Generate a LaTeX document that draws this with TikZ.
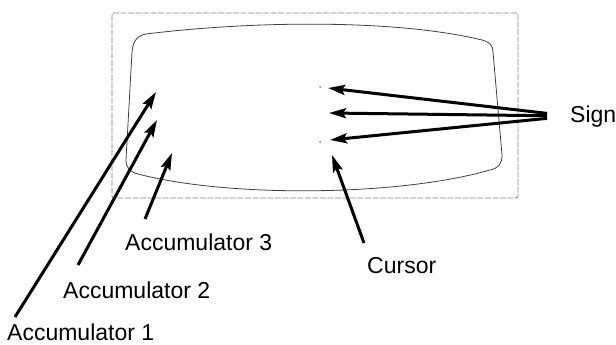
\documentclass[tikz,border=0pt]{standalone}
\usepackage{fontspec}
\setmainfont{Liberation Sans}
\usetikzlibrary{arrows.meta}
\begin{document}
\begin{tikzpicture}[x=1pt,y=-1pt,
  pointer/.style={line width=3pt,-{Stealth[length=17pt,width=10pt,inset=3pt]}},
  tag/.style={anchor=base west,inner sep=0pt,font=\fontsize{23}{26}\selectfont}]
 \useasboundingbox (0,0) rectangle (616,345);
 % display frame
 \draw[gray,line width=0.8pt,dash pattern=on 6pt off 1.5pt,rounded corners=2pt](112,13) rectangle (518,198);
 % screen
 \draw[black!75,line width=0.8pt](132,52) .. controls (133,42) and (136,36) .. (146,34)
   .. controls (260,20) and (400,20) .. (482,40)
   .. controls (490,42) and (493,46) .. (493,52) -- (502,155)
   .. controls (502,165) and (498,168) .. (490,170)
   .. controls (400,196) and (230,198) .. (138,174)
   .. controls (130,172) and (126,168) .. (126,160) -- cycle;
 \fill[gray](320,87) circle (1pt);
 \fill[gray](320,142) circle (1pt);
 % targets
 \coordinate (s1) at (328,88);
 \coordinate (s2) at (329,113);
 \coordinate (s3) at (330,140);
 \coordinate (cur) at (332,155);
 \coordinate (a1) at (156,92);
 \coordinate (a2) at (157,120);
 \coordinate (a3) at (172,153);
 % labels
 \node[tag] (sign) at (570,122) {Sign};
 \node[tag] (cursor) at (367,273) {Cursor};
 \node[tag] (acc3) at (125,250) {Accumulator 3};
 \node[tag] (acc2) at (63,298) {Accumulator 2};
 \node[tag] (acc1) at (7,340) {Accumulator 1};
 \coordinate (cu) at (364,243);
 \coordinate (t3) at (145,219);
 \coordinate (t2) at (78,265);
 \coordinate (t1) at (15,317);
 % arrows
 \foreach \t in {s1,s2,s3} \draw[pointer,shorten <=23pt](sign.west)--(\t);
 \draw[pointer](cu)--(cur);
 \draw[pointer](t3)--(a3);
 \draw[pointer](t2)--(a2);
 \draw[pointer](t1)--(a1);
\end{tikzpicture}
\end{document}
